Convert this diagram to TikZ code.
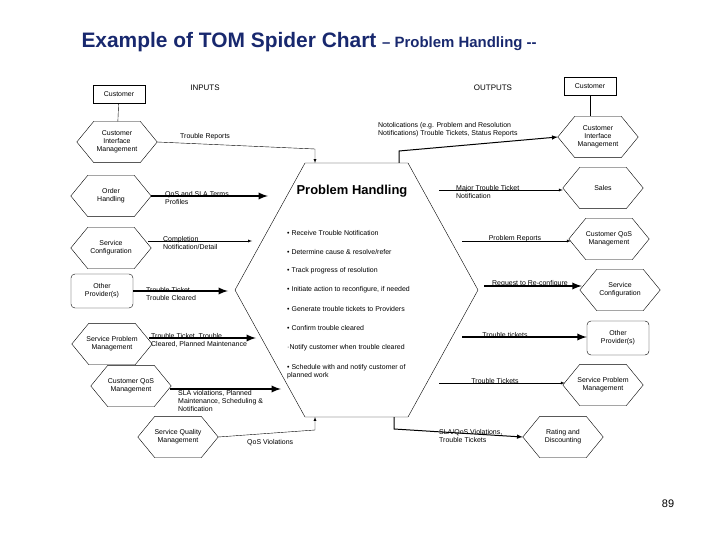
\documentclass[tikz,border=0pt]{standalone}
\usepackage{fontspec}
\setmainfont{Liberation Sans}
\usetikzlibrary{positioning, arrows, calc}
\definecolor{titleblue}{RGB}{24,40,110}

\begin{document}
\begin{tikzpicture}[x=1bp, y=-1bp, font=\fontsize{7}{8}\selectfont,
hexa/.style={rectangle, minimum width=80bp, minimum height=41bp, inner sep=1pt, align=center},
boxy/.style={rectangle, draw, minimum width=52bp, minimum height=18bp, inner sep=1pt},
rbox/.style={rectangle, rounded corners=4pt, draw, minimum width=62bp, minimum height=34bp, align=center},
lbl/.style={align=left, inner sep=0pt, anchor=west},
flow/.style={-latex, thin},
bigflow/.style={-latex, line width=2.2pt}
]
\useasboundingbox (0,0) rectangle (720,540);

% Title
\node[anchor=west, text=titleblue, font=\fontsize{21}{24}\selectfont\bfseries] (title) at (78,42)
{Example of TOM Spider Chart {\fontsize{15}{17}\selectfont – Problem Handling -{}-}};
\node[font=\fontsize{11}{12}\selectfont] (page) at (668,504) {89};
\node[font=\fontsize{8}{9}\selectfont] (inputs) at (205,88) {INPUTS};
\node[font=\fontsize{8}{9}\selectfont] (outputs) at (493,88) {OUTPUTS};

% Central hexagon
\coordinate (tl) at (305,163);
\coordinate (tr) at (408,163);
\coordinate (rp) at (478,290);
\coordinate (br) at (408,417);
\coordinate (bl) at (305,417);
\coordinate (lp) at (235,290);
\draw[thin] (tl) -- (tr) -- (rp) -- (br) -- (bl) -- (lp) -- cycle;
\node[font=\fontsize{13}{15}\selectfont\bfseries] (ph) at (352,191) {Problem Handling};
\foreach \txt [count=\i] in {{Receive Trouble Notification},
{Determine cause \& resolve/refer}, {Track progress of resolution},
{Initiate action to reconfigure, if needed}, {Generate trouble tickets to Providers},
{Confirm trouble cleared}}
\node[lbl] (b\i) at (287,214+19*\i) {\textbullet{} \txt};
\node[lbl] (b7) at (287,348) {\textperiodcentered Notify customer when trouble cleared};
\node[lbl] (b8) at (287,372) {\textbullet{} Schedule with and notify customer of\\planned work};

% Inputs
\node[boxy] (custL) at (119,94) {Customer};
\node[hexa] (cimL) at (117,142) {Customer\\Interface\\Management};
\node[hexa] (oh) at (111,196) {Order\\Handling};
\node[hexa] (scL) at (111,248) {Service\\Configuration};
\node[rbox] (opL) at (102,291) {Other\\Provider(s)};
\node[hexa] (spmL) at (112,344) {Service Problem\\Management};
\node[hexa] (cqL) at (131,386) {Customer QoS\\Management};
\node[hexa] (sqm) at (178,437) {Service Quality\\Management};

% Outputs
\node[boxy] (custR) at (590,86) {Customer};
\node[hexa] (cimR) at (598,137) {Customer\\Interface\\Management};
\node[hexa] (sales) at (603,188) {Sales};
\node[hexa] (cqR) at (609,239) {Customer QoS\\Management};
\node[hexa] (scR) at (620,290) {Service\\Configuration};
\node[rbox] (opR) at (618,338) {Other\\Provider(s)};
\node[hexa] (spmR) at (603,385) {Service Problem\\Management};
\node[hexa] (rd) at (563,437) {Rating and\\Discounting};

% hexagon outlines
\foreach \n in {cimL, oh, scL, spmL, cqL, sqm, cimR, sales, cqR, scR, spmR, rd}
\draw[thin] (\n.west) -- ($(\n.north west)+(17,0)$) -- ($(\n.north east)+(-17,0)$)
-- (\n.east) -- ($(\n.south east)+(-17,0)$) -- ($(\n.south west)+(17,0)$) -- cycle;

\coordinate (inTR) at (315,149);
\coordinate (inOH) at (268,196);
\coordinate (inSC) at (252,241);
\coordinate (inOP) at (228,291);
\coordinate (inSPM) at (256,338);
\coordinate (inCQ) at (281,389);
\coordinate (inQV) at (315,430);

\draw (custL) -- (cimL);
\draw[flow] (cimL.east) -- (inTR) -- (inTR |- tl);
\draw[bigflow] (oh.east) -- (inOH);
\draw[flow] ($(scL.east)+(-3,-7)$) -- (inSC);
\draw[bigflow] (opL.east) -- (inOP);
\draw[bigflow] ($(spmL.east)+(-3,-6)$) -- (inSPM);
\draw[bigflow] ($(cqL.east)+(-1,3)$) -- (inCQ);
\draw[flow] (sqm.east) -- (inQV) -- (inQV |- bl);

\node[lbl] (lTR) at (180,137) {Trouble Reports};
\node[lbl] (lOH) at (165,198) {QoS and SLA Terms\\Profiles};
\node[lbl] (lSC) at (163,243) {Completion\\Notification/Detail};
\node[lbl] (lOP) at (146,294) {Trouble Ticket\\Trouble Cleared};
\node[lbl] (lSPM) at (151,340) {Trouble Ticket, Trouble\\Cleared, Planned Maintenance};
\node[lbl] (lCQ) at (178,401) {SLA violations, Planned\\Maintenance, Scheduling \&\\Notification};
\node[lbl] (lQV) at (247,443) {QoS Violations};

\coordinate (outN) at (399,151);
\coordinate (outMT) at (439,190);
\coordinate (outPR) at (462,241);
\coordinate (outRC) at (484,286);
\coordinate (outTT) at (462,337);
\coordinate (outST) at (439,383);
\coordinate (outSV) at (394,429);

\draw (custR) -- (custR |- cimR.north);
\draw[flow, line width=1pt] (outN |- tl) -- (outN) -- (cimR.west);
\draw[flow] (outMT) -- (outMT -| sales.west);
\draw[flow] (outPR) -- ($(outPR -| cqR.west)+(2,0)$);
\draw[bigflow] (outRC) -- ($(outRC -| scR.west)+(2,0)$);
\draw[bigflow] (outTT) -- (outTT -| opR.west);
\draw[flow] (outST) -- ($(outST -| spmR.west)+(2,0)$);
\draw[flow, line width=1pt] (outSV |- bl) -- (outSV) -- (rd.west);

\node[lbl] (lN) at (378,130) {Notolications (e.g. Problem and Resolution\\Notifications) Trouble Tickets, Status Reports};
\node[lbl] (lMT) at (456,192) {Major Trouble Ticket\\Notification};
\node (lPR) at (515,239) {Problem Reports};
\node (lRC) at (530,284) {Request to Re-configure};
\node (lTT) at (505,335) {Trouble tickets};
\node (lST) at (495,381) {Trouble Tickets};
\node[lbl] (lSV) at (439,436) {SLA/QoS Violations,\\Trouble Tickets};
\end{tikzpicture}
\end{document}
